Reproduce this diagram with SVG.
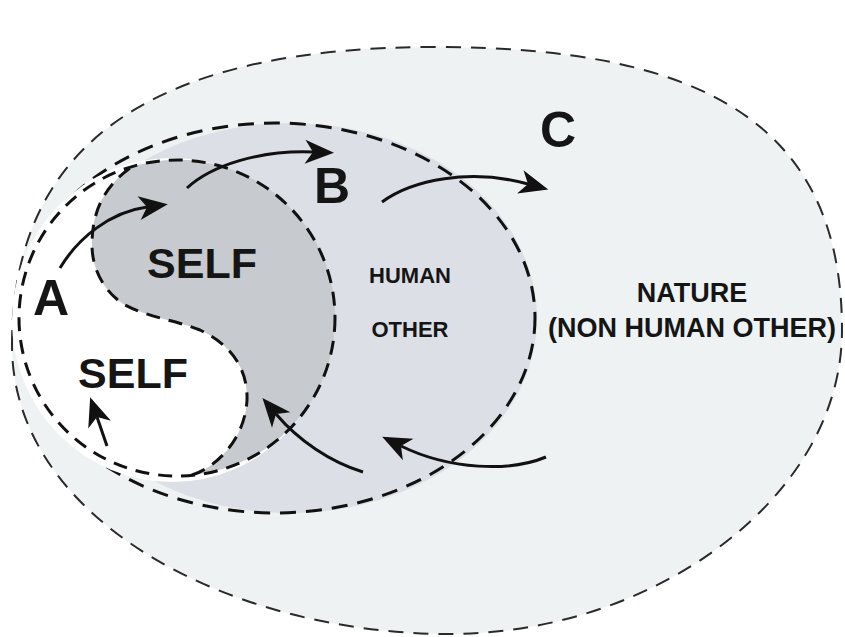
<svg xmlns="http://www.w3.org/2000/svg" width="845" height="637" viewBox="0 0 845 637">
<defs>
<style>
.lbl{font-family:"Liberation Sans",Arial,sans-serif;font-weight:bold;fill:#151515;text-anchor:middle}
.big{font-size:50px}
.self{font-size:43px}
.mid{font-size:22px}
.nat{font-size:27px}
.dash-n{fill:none;stroke:#2a2a2a;stroke-width:2;stroke-dasharray:15 10}
.dash-h{fill:none;stroke:#111;stroke-width:3;stroke-dasharray:16 10}
.dash-s{fill:none;stroke:#111;stroke-width:3;stroke-dasharray:14 9}
.arrow{fill:none;stroke:#111;stroke-width:3;marker-end:url(#head)}
</style>
<marker id="head" markerUnits="userSpaceOnUse" markerWidth="40" markerHeight="30" viewBox="-10 -15 40 30" refX="0" refY="0" orient="auto" overflow="visible">
<path d="M21,0 L-8,-12 L0,0 L-8,12 Z" fill="#111"/>
</marker>
</defs>
<rect width="845" height="637" fill="#ffffff"/>
<g id="nature">
<path d="M12,345 C12,132 170,47 435,47 C700,47 842,122 842,330 C842,500 650,634 450,634 C230,634 12,520 12,345 Z" fill="#eef2f3"/>
<path class="dash-n" d="M12,345 C12,132 170,47 435,47 C700,47 842,122 842,330 C842,500 650,634 450,634 C230,634 12,520 12,345 Z"/>
</g>
<g id="human-other">
<ellipse cx="290" cy="318" rx="247" ry="195" fill="#dcdfe5"/>
<ellipse class="dash-h" cx="275" cy="318" rx="260" ry="195"/>
</g>
<g id="self">
<ellipse cx="172" cy="320" rx="160" ry="162" fill="#ffffff"/>
<path d="M133,166 A158,158 0 1 1 192,475 C215,468 245,440 247,400 C248,370 232,345 200,330 C175,320 150,318 125,305 C105,293 92,270 92,245 C92,210 105,185 133,166 Z" fill="#c7cacf"/>
<circle class="dash-s" cx="177" cy="318" r="158"/>
<path class="dash-s" d="M192,475 C215,468 245,440 247,400 C248,370 232,345 200,330 C175,320 150,318 125,305 C105,293 92,270 92,245 C92,210 105,185 133,166"/>
</g>
<g id="connectors">
<path class="arrow" d="M60,268 C78,238 110,212 147,207"/>
<path class="arrow" d="M187,188 C212,165 260,150 313,152"/>
<path class="arrow" d="M382,202 C412,180 470,168 528,184"/>
<path class="arrow" d="M546,457 C510,472 450,470 401,446"/>
<path class="arrow" d="M363,472 C330,462 298,440 276,414"/>
<path class="arrow" d="M107,446 L97,417"/>
</g>
<g id="labels">
<text class="lbl big" x="51" y="315">A</text>
<text class="lbl big" x="332" y="203">B</text>
<text class="lbl big" x="558" y="147">C</text>
<text class="lbl self" x="202" y="278">SELF</text>
<text class="lbl self" x="133" y="388">SELF</text>
<text class="lbl mid" x="410" y="283">HUMAN</text>
<text class="lbl mid" x="410" y="337">OTHER</text>
<text class="lbl nat" x="692" y="302">NATURE</text>
<text class="lbl nat" x="692" y="337">(NON HUMAN OTHER)</text>
</g>
</svg>
